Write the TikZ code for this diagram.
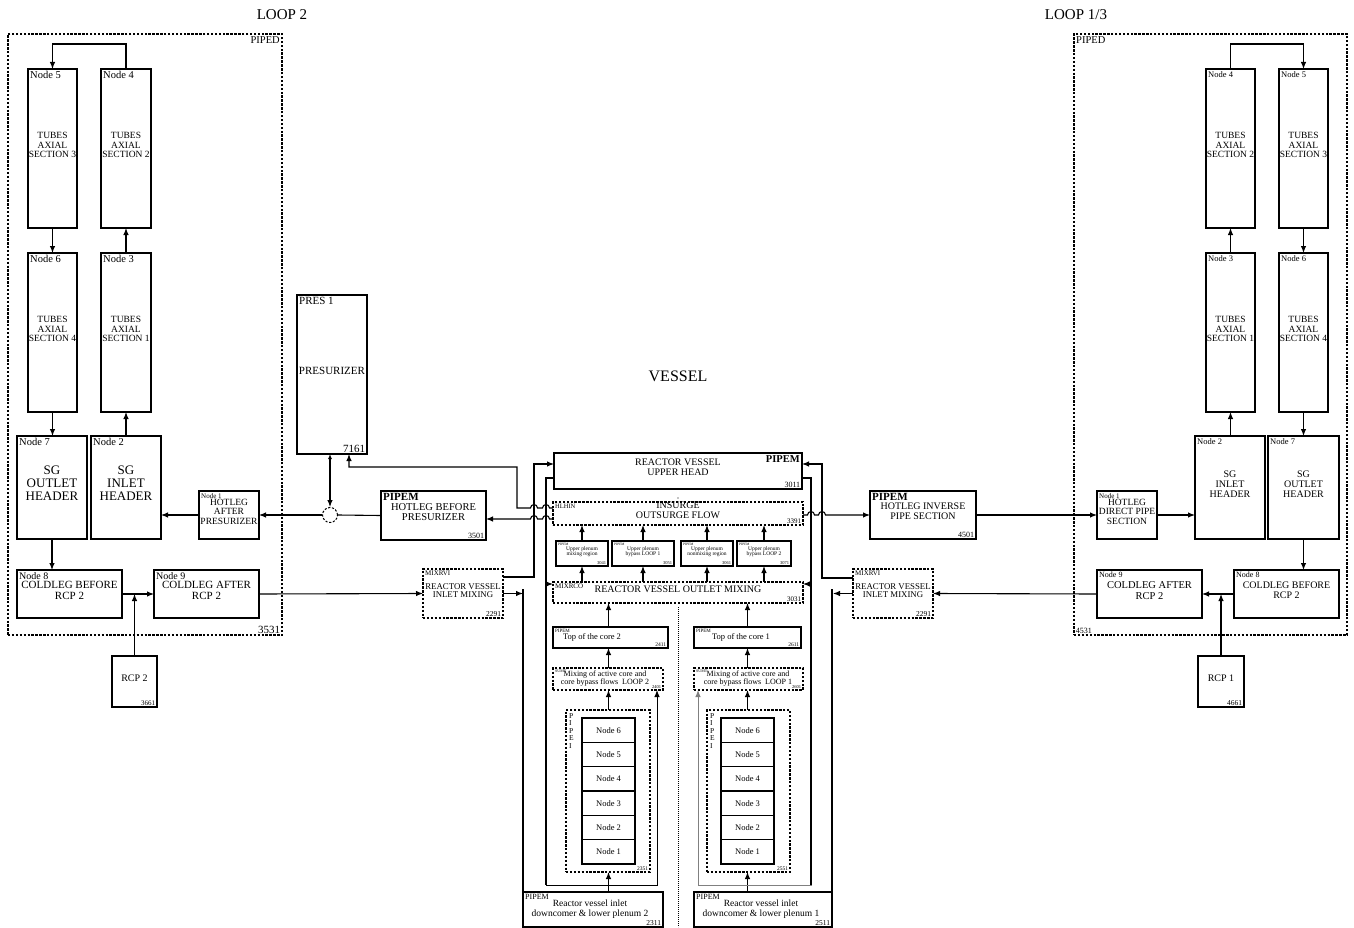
\documentclass[tikz,border=0pt]{standalone}
\usepackage{fontspec}
\setmainfont{Liberation Serif}
\usetikzlibrary{fit,arrows.meta}
\newcommand\fs[1]{\fontsize{#1}{#1}\selectfont}
\begin{document}
\begin{tikzpicture}[x=1pt,y=-1pt,
  box/.style={draw,line width=1.1pt,inner sep=0pt,outer sep=0pt,align=center},
  dbox/.style={box,dash pattern=on 2.4pt off 1.5pt},
  nwl/.style 2 args={label={[anchor=north west,inner sep=2pt,font=\fs{#1}]north west:{#2}}},
  nel/.style 2 args={label={[anchor=north east,inner sep=2pt,font=\fs{#1}]north east:{#2}}},
  sel/.style 2 args={label={[anchor=south east,inner sep=1.6pt,font=\fs{#1}]south east:{#2}}},
  swl/.style 2 args={label={[anchor=south west,inner sep=1.6pt,font=\fs{#1}]south west:{#2}}},
  arr/.style={line width=1.1pt,-{Latex[length=7pt,width=5.5pt]}},
  ln/.style={line width=1.1pt},
  txt/.style={inner sep=0pt,align=center}]
\fill[white] (0,0) rectangle (1354,928);
\useasboundingbox (0,0) rectangle (1354,928);

% titles
\node[txt,font=\fs{15}] (tL2) at (282,15) {LOOP 2};
\node[txt,font=\fs{15}] (tL13) at (1076,15) {LOOP 1/3};
\node[txt,font=\fs{16}] (tV) at (678,376) {VESSEL};

% ---------------- LEFT LOOP ----------------
\node[dbox,fit={(8,34)(282,635)},nel={10.5}{PIPED},sel={11}{3531}] (PL) {};
\node[box,font=\fs{9.5},fit={(28,69)(77,228)},nwl={10.5}{Node 5}] (L5) {TUBES\\AXIAL\\SECTION 3};
\node[box,font=\fs{9.5},fit={(101,69)(151,228)},nwl={10.5}{Node 4}] (L4) {TUBES\\AXIAL\\SECTION 2};
\node[box,font=\fs{9.5},fit={(28,253)(77,412)},nwl={10.5}{Node 6}] (L6) {TUBES\\AXIAL\\SECTION 4};
\node[box,font=\fs{9.5},fit={(101,253)(151,412)},nwl={10.5}{Node 3}] (L3) {TUBES\\AXIAL\\SECTION 1};
\node[box,font=\fs{13},fit={(17,436)(87,539)},nwl={10.5}{Node 7}] (L7) {SG\\OUTLET\\HEADER};
\node[box,font=\fs{13},fit={(91,436)(161,539)},nwl={10.5}{Node 2}] (L2) {SG\\INLET\\HEADER};
\node[box,font=\fs{9.5},fit={(199,491)(259,539)},nwl={7}{Node 1}] (L1) {HOTLEG\\AFTER\\PRESURIZER};
\node[box,font=\fs{11},fit={(17,570)(122,618)},nwl={10}{Node 8}] (L8) {COLDLEG BEFORE\\RCP 2};
\node[box,font=\fs{11},fit={(154,570)(259,618)},nwl={10}{Node 9}] (L9) {COLDLEG AFTER\\RCP 2};
\node[box,font=\fs{10},fit={(112,656)(157,707)},sel={7}{3661}] (RCP2) {RCP 2};

\draw[arr] (L4.north) -- ++(0,-25) -| (L5.north);
\draw[arr] (L5.south) -- (L6.north);
\draw[arr] (L3.north) -- (L4.south);
\draw[arr] (L6.south) -- (L6.south |- L7.north);
\draw[arr] (L2.north) -- (L2.north |- L3.south);
\draw[arr] (L7.south) -- (L7.south |- L8.north);
\draw[arr] (L1.west) -- (L1.west -| L2.east);
\draw[arr] (L8.east) -- (L9.west);
\draw[arr] (RCP2.north) -- (RCP2.north |- L8.east);

% ---------------- PRESSURIZER ----------------
\node[box,font=\fs{11},fit={(297,295)(367,454)},nwl={11}{PRES 1},sel={11}{7161}] (PRZ) {PRESURIZER};
\node[draw,circle,dash pattern=on 2.2pt off 1.6pt,line width=1pt,minimum size=15pt,inner sep=0pt] (CJ) at (330,515) {};
\node[box,font=\fs{10.5},fit={(381,491)(486,540)},nwl={11}{\bfseries PIPEM},sel={8}{3501}] (HB) {HOTLEG BEFORE\\PRESURIZER};
\draw[line width=1.1pt,{Latex[length=5pt,width=4pt]}-{Latex[length=7pt,width=5.5pt]}] (CJ.north |- PRZ.south) -- (CJ.north);
\draw[ln] (HB.west) -- (CJ.east);
\draw[arr] (CJ.west) -- (CJ.west -| L1.east);

% ---------------- VESSEL ----------------
\node[box,font=\fs{10},fit={(554,453)(802,489)},nel={10.5}{\bfseries PIPEM},sel={8}{3011}] (UH) {REACTOR VESSEL\\UPPER HEAD};
\node[dbox,font=\fontsize{10}{9.5}\selectfont,fit={(553,502)(803,525)},nwl={6.5}{HLHIN},sel={7}{3391}] (INS) {INSURGE\\OUTSURGE FLOW};
\node[box,font=\fs{5.5},fit={(556,541)(608,566)},nwl={3.5}{PIPEM},sel={4.5}{3041}] (UPa) {Upper plenum\\mixing region};
\node[box,font=\fs{5.5},fit={(612,541)(674,566)},nwl={3.5}{PIPEM},sel={4.5}{3051}] (UPb) {Upper plenum\\bypass LOOP 1};
\node[box,font=\fs{5.5},fit={(681,541)(733,566)},nwl={3.5}{PIPEM},sel={4.5}{3061}] (UPc) {Upper plenum\\nonmixing region};
\node[box,font=\fs{5.5},fit={(737,541)(791,566)},nwl={3.5}{PIPEM},sel={4.5}{3071}] (UPd) {Upper plenum\\bypass LOOP 2};
\node[dbox,font=\fs{10},fit={(553,582)(803,603)},nwl={7}{MIXRCO},sel={7}{3031}] (MX) {REACTOR VESSEL OUTLET MIXING};
\fill (678,498) circle (0.6);

\foreach \b in {UPa,UPb,UPc,UPd}{
  \draw[arr] (\b |- MX.north) -- (\b.south);
  \draw[arr] (\b.north) -- (\b |- INS.south);
}

% left core column
\node[box,fit={(553,627)(668,648)},nwl={5}{PIPEM},sel={5.5}{2411}] (TC2) {};
\node[txt,font=\fs{8.5}] (TC2t) at (592,637) {Top of the core 2};
\node[dbox,fit={(553,668)(663,690)},nwl={4}{SUMT},sel={4.5}{2401}] (MC2) {};
\node[txt,font=\fs{8}] (MC2t) at (605,679) {Mixing of active core and\\core bypass flows\ \ LOOP 2};
\node[dbox,fit={(566,710)(650,872)},sel={5.5}{2351}] (PI2) {};
\node[txt,font=\fs{7.5},align=left,anchor=north west] (PI2l) at (569,713) {P\\I\\P\\E\\I};
\foreach \i in {1,...,6}{
  \node[box,font=\fs{8.5},minimum width=53pt,minimum height=24.33pt,anchor=south west] (A\i) at (582,{864-24.33*(\i-1)}) {Node \i};
}
\node[box,fit={(523,892)(663,927)},nwl={8}{PIPEM},sel={7.5}{2311}] (DC2) {};
\node[txt,font=\fs{9.5}] (DC2t) at (590,909) {Reactor vessel inlet\\downcomer \& lower plenum 2};

\draw[arr] (A1 |- DC2.north) -- (A1 |- PI2.south);
\draw[arr] (A1 |- PI2.north) -- (A1 |- MC2.south);
\draw[arr] (A1 |- MC2.north) -- (A1 |- TC2.south);
\draw[arr] (A1 |- TC2.north) -- (A1 |- MX.south);

% right core column
\node[box,fit={(694,627)(801,648)},nwl={5}{PIPEM},sel={5.5}{2611}] (TC1) {};
\node[txt,font=\fs{8.5}] (TC1t) at (741,637) {Top of the core 1};
\node[dbox,fit={(694,668)(803,690)},nwl={4}{SUMT},sel={4.5}{2601}] (MC1) {};
\node[txt,font=\fs{8}] (MC1t) at (748,679) {Mixing of active core and\\core bypass flows\ \ LOOP 1};
\node[dbox,fit={(707,710)(790,872)},sel={5.5}{2551}] (PI1) {};
\node[txt,font=\fs{7.5},align=left,anchor=north west] (PI1l) at (710,713) {P\\I\\P\\E\\I};
\foreach \i in {1,...,6}{
  \node[box,font=\fs{8.5},minimum width=53pt,minimum height=24.33pt,anchor=south west] (B\i) at (721,{864-24.33*(\i-1)}) {Node \i};
}
\node[box,fit={(694,892)(832,927)},nwl={8}{PIPEM},sel={7.5}{2511}] (DC1) {};
\node[txt,font=\fs{9.5}] (DC1t) at (761,909) {Reactor vessel inlet\\downcomer \& lower plenum 1};

\draw[arr] (B1 |- DC1.north) -- (B1 |- PI1.south);
\draw[arr] (B1 |- PI1.north) -- (B1 |- MC1.south);
\draw[arr] (B1 |- MC1.north) -- (B1 |- TC1.south);
\draw[arr] (B1 |- TC1.north) -- (B1 |- MX.south);

\draw[line width=0.8pt,dash pattern=on 0.8pt off 1.2pt] ([yshift=-4pt]MX.south) -- (MX.south |- DC1.south);

% inlet mixing boxes
\node[dbox,font=\fs{8.8},fit={(423,569)(503,618)},nwl={7}{MIXRVI},sel={7.5}{2291}] (MVL) {REACTOR VESSEL\\INLET MIXING};
\node[dbox,font=\fs{8.8},fit={(853,569)(933,618)},nwl={7}{MIXRVI},sel={7.5}{2291}] (MVR) {REACTOR VESSEL\\INLET MIXING};
\node[box,font=\fs{10},fit={(870,491)(976,539)},nwl={11}{\bfseries PIPEM},sel={8}{4501}] (HBI) {HOTLEG INVERSE\\PIPE SECTION};

\draw[arr] (L9.east) -- (MVL.west);
\draw[arr] ([yshift=-8pt]MVL.north east) -- ++(31,0) |- ([yshift=-11pt]UH.north west);
\draw[arr] (MVL.east) -- ++(20,0);
\draw[ln] (DC2.north west) -- ++(0,-303);
\draw[arr,line width=0.9pt] ([yshift=11pt]UH.south west) -- ++(-8,0) -- ++(0,407) -| ([xshift=-6pt]MC2.south east);
\draw[ln] ([yshift=11pt]UH.south west) -- ++(-8,0) -- ++(0,407);
\draw[arr] ([xshift=-7pt,yshift=-2pt]MX.north west) -- ([yshift=-2pt]MX.north west);

\draw[arr,draw=gray,line width=0.9pt] ([yshift=11pt]UH.south east) -- ++(9,0) -- ++(0,407) -| ([xshift=4pt]MC1.south west);
\draw[ln] ([yshift=11pt]UH.south east) -- ++(9,0) -- ++(0,407);
\draw[arr] ([xshift=8pt,yshift=-2pt]MX.north east) -- ([yshift=-2pt]MX.north east);
\draw[arr] ([yshift=-9pt]MVR.north west) -- ++(-31,0) |- ([yshift=-11pt]UH.north east);
\draw[arr] (MVR.west) -- ++(-20,0);
\draw[ln] (DC1.north east) -- ++(0,-303);

% hopping lines
\draw[arr] ([yshift=5.5pt]INS.west) -- (549.5,508) .. controls (549.5,503.5) and (542.5,503.5) .. (542.5,508)
  -- (537.5,508) .. controls (537.5,503.5) and (530.5,503.5) .. (530.5,508) -- (517,508) -- (517,467)
  -| ([xshift=-18pt]PRZ.south east);
\draw[arr] ([yshift=-5.5pt]INS.west) -- (549.5,519) .. controls (549.5,514.5) and (542.5,514.5) .. (542.5,519)
  -- (537.5,519) .. controls (537.5,514.5) and (530.5,514.5) .. (530.5,519) -- ([yshift=-3.5pt]HB.east);
\draw[arr] ([yshift=-1.5pt]INS.east) -- (807.5,515) .. controls (807.5,510.5) and (814.5,510.5) .. (814.5,515)
  -- (818.5,515) .. controls (818.5,510.5) and (825.5,510.5) .. (825.5,515) -- (HBI.west);

% ---------------- RIGHT LOOP ----------------
\node[dbox,fit={(1074,34)(1347,635)},nwl={10.5}{PIPED},swl={8}{4531}] (PR) {};
\node[box,font=\fs{9.5},fit={(1206,69)(1255,228)},nwl={8.5}{Node 4}] (R4) {TUBES\\AXIAL\\SECTION 2};
\node[box,font=\fs{9.5},fit={(1279,69)(1328,228)},nwl={8.5}{Node 5}] (R5) {TUBES\\AXIAL\\SECTION 3};
\node[box,font=\fs{9.5},fit={(1206,253)(1255,412)},nwl={8.5}{Node 3}] (R3) {TUBES\\AXIAL\\SECTION 1};
\node[box,font=\fs{9.5},fit={(1279,253)(1328,412)},nwl={8.5}{Node 6}] (R6) {TUBES\\AXIAL\\SECTION 4};
\node[box,font=\fs{10},fit={(1195,436)(1265,539)},nwl={8.5}{Node 2}] (R2) {SG\\INLET\\HEADER};
\node[box,font=\fs{10},fit={(1268,436)(1339,539)},nwl={8.5}{Node 7}] (R7) {SG\\OUTLET\\HEADER};
\node[box,font=\fs{9.5},fit={(1097,491)(1157,539)},nwl={7}{Node 1}] (R1) {HOTLEG\\DIRECT PIPE\\SECTION};
\node[box,font=\fs{10.5},fit={(1097,570)(1202,618)},nwl={8}{Node 9}] (R9) {COLDLEG AFTER\\RCP 2};
\node[box,font=\fs{10},fit={(1234,570)(1339,618)},nwl={8}{Node 8}] (R8) {COLDLEG BEFORE\\RCP 2};
\node[box,font=\fs{10},fit={(1198,656)(1244,707)},sel={7.5}{4661}] (RCP1) {RCP 1};

\draw[arr] (R4.north) -- ++(0,-25) -| (R5.north);
\draw[arr] (R5.south) -- (R6.north);
\draw[arr] (R3.north) -- (R4.south);
\draw[arr] (R3.south |- R2.north) -- (R3.south);
\draw[arr] (R6.south) -- (R6.south |- R7.north);
\draw[arr] (R7.south) -- (R7.south |- R8.north);
\draw[arr] (HBI.east) -- (R1.west);
\draw[arr] (R1.east) -- (R1.east -| R2.west);
\draw[arr] (R8.west) -- (R9.east);
\draw[arr] (RCP1.north) -- (RCP1.north |- R8.west);
\draw[arr] (R9.west) -- (MVR.east);
\end{tikzpicture}
\end{document}
